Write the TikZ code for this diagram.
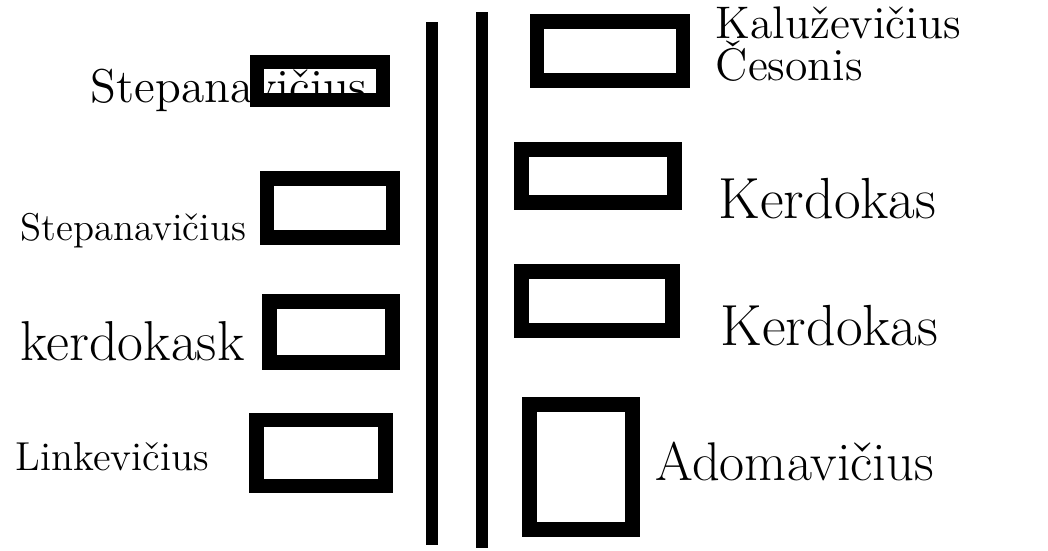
\documentclass[tikz,border=0pt]{standalone}
\usepackage{fontspec}
\usepackage{xcolor}
\usepackage{tikz}
\newcommand{\fs}[1]{\fontsize{#1}{#1}\selectfont}

\begin{document}
\begin{tikzpicture}[x=0.1mm, y=-0.1mm,
    desk/.style={draw, line width=4pt, inner sep=0pt},
    wall/.style={line width=3.4pt},
    sign/.style={anchor=base west, inner sep=0pt}]
  \useasboundingbox (0,0) rectangle (1048,550);
  % names on the left
  \node[sign, font=\fs{13.5}] (n1) at (90,102) {Stepanavičius};
  \node[sign, font=\fs{11}] (n2) at (20,240) {Stepanavičius};
  \node[sign, font=\fs{16}] (n3) at (20,360) {kerdokask};
  \node[sign, font=\fs{11.5}] (n4) at (15,470) {Linkevičius};
  % names on the right
  \node[sign, font=\fs{13}\addfontfeatures{LetterSpace=20}] (m1) at (715,38) {Kaluževičius};
  \node[sign, font=\fs{13}\addfontfeatures{LetterSpace=15}] (m1b) at (715,80) {Česonis};
  \node[sign, font=\fs{16.5}] (m2) at (718,218) {Kerdokas};
  \node[sign, font=\fs{16.5}] (m3) at (720,345) {Kerdokas};
  \node[sign, font=\fs{15.5}] (m4) at (655,480) {Adomavičius};
  % desks
  \foreach \n/\x/\y/\w/\h in {l1/320/81/12.6/3.8, l2/330/208/12.6/5.9,
      l3/331/332/12.3/6.1, l4/321/453/12.9/6.6,
      r1/610/51/14.6/5.9, r2/598/176/15.3/5.3,
      r3/597/301/15.1/5.9, r4/581/467/10.3/12.5}{
    \node[desk, minimum width=\w mm, minimum height=\h mm] (\n) at (\x,\y) {};}
  % the two walls
  \coordinate (a1) at (432,22);
  \coordinate (a2) at (432,545);
  \coordinate (b1) at (482,12);
  \coordinate (b2) at (482,548);
  \draw[wall] (a1) -- (a2);
  \draw[wall] (b1) -- (b2);
\end{tikzpicture}
\end{document}
